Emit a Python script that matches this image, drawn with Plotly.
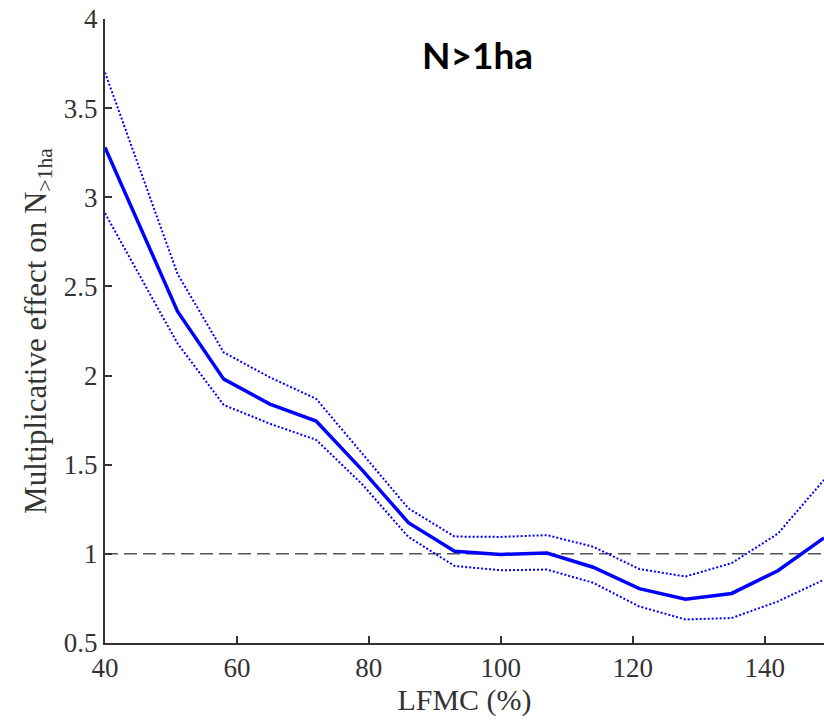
import plotly.graph_objects as go

# LFMC (%) sample points
lfmc = [40, 51, 58, 65, 72, 79, 86, 93, 100, 107, 114, 121, 128, 135, 142, 149]

# Multiplicative effect on N>1ha: estimate and confidence bounds
effect = [3.28, 2.36, 1.98, 1.84, 1.745, 1.47, 1.175, 1.015, 0.997, 1.005, 0.925,
          0.805, 0.745, 0.778, 0.905, 1.09]
upper = [3.70, 2.57, 2.13, 1.99, 1.87, 1.56, 1.255, 1.097, 1.095, 1.105, 1.04,
         0.915, 0.873, 0.948, 1.113, 1.415]
lower = [2.91, 2.18, 1.835, 1.73, 1.64, 1.39, 1.095, 0.932, 0.908, 0.912, 0.838,
         0.705, 0.632, 0.64, 0.733, 0.855]

x_ticks = [40, 60, 80, 100, 120, 140]
y_ticks = [0.5, 1, 1.5, 2, 2.5, 3, 3.5, 4]

serif = "Liberation Serif, Times New Roman, serif"

fig = go.Figure()

# reference line at no effect
fig.add_trace(go.Scatter(
    x=[40, 149], y=[1, 1], mode="lines",
    line=dict(color="#555555", width=1.5, dash="13px,6px"),
    showlegend=False, hoverinfo="skip",
))

for bound in (upper, lower):
    fig.add_trace(go.Scatter(
        x=lfmc, y=bound, mode="lines",
        line=dict(color="#0000ff", width=2, dash="2px,2px"),
        showlegend=False,
    ))

fig.add_trace(go.Scatter(
    x=lfmc, y=effect, mode="lines",
    line=dict(color="#0000ff", width=3.5),
    showlegend=False,
))

fig.update_xaxes(
    range=[40, 149], tickvals=x_ticks, ticks="inside", ticklen=7,
    tickcolor="#333333", tickwidth=1.5,
    showline=True, linecolor="#333333", linewidth=2,
    showgrid=False, zeroline=False,
    tickfont=dict(family=serif, size=27, color="#333333"),
    title=dict(text="LFMC (%)", font=dict(family=serif, size=30, color="#333333"),
               standoff=6),
)
fig.update_yaxes(
    range=[0.5, 4], tickvals=y_ticks, ticks="inside", ticklen=7,
    tickcolor="#333333", tickwidth=1.5,
    showline=True, linecolor="#333333", linewidth=2,
    showgrid=False, zeroline=False,
    tickfont=dict(family=serif, size=27, color="#333333"),
    title=dict(text="Multiplicative effect on N<sub>>1ha</sub>",
               font=dict(family=serif, size=31, color="#333333"), standoff=8),
)

fig.update_layout(
    width=824, height=724,
    margin=dict(l=105, r=0, t=19, b=81),
    plot_bgcolor="white", paper_bgcolor="white",
    annotations=[dict(
        text="<b>N>1ha</b>", xref="paper", yref="paper",
        x=(477 - 105) / 719, y=(643 - 54) / 624,
        xanchor="center", yanchor="middle", showarrow=False,
        font=dict(family="Lato, sans-serif", size=37, color="black"),
    )],
)

fig.write_html("out.html", config={"displayModeBar": False},
               post_script="document.body.style.margin='0';")
